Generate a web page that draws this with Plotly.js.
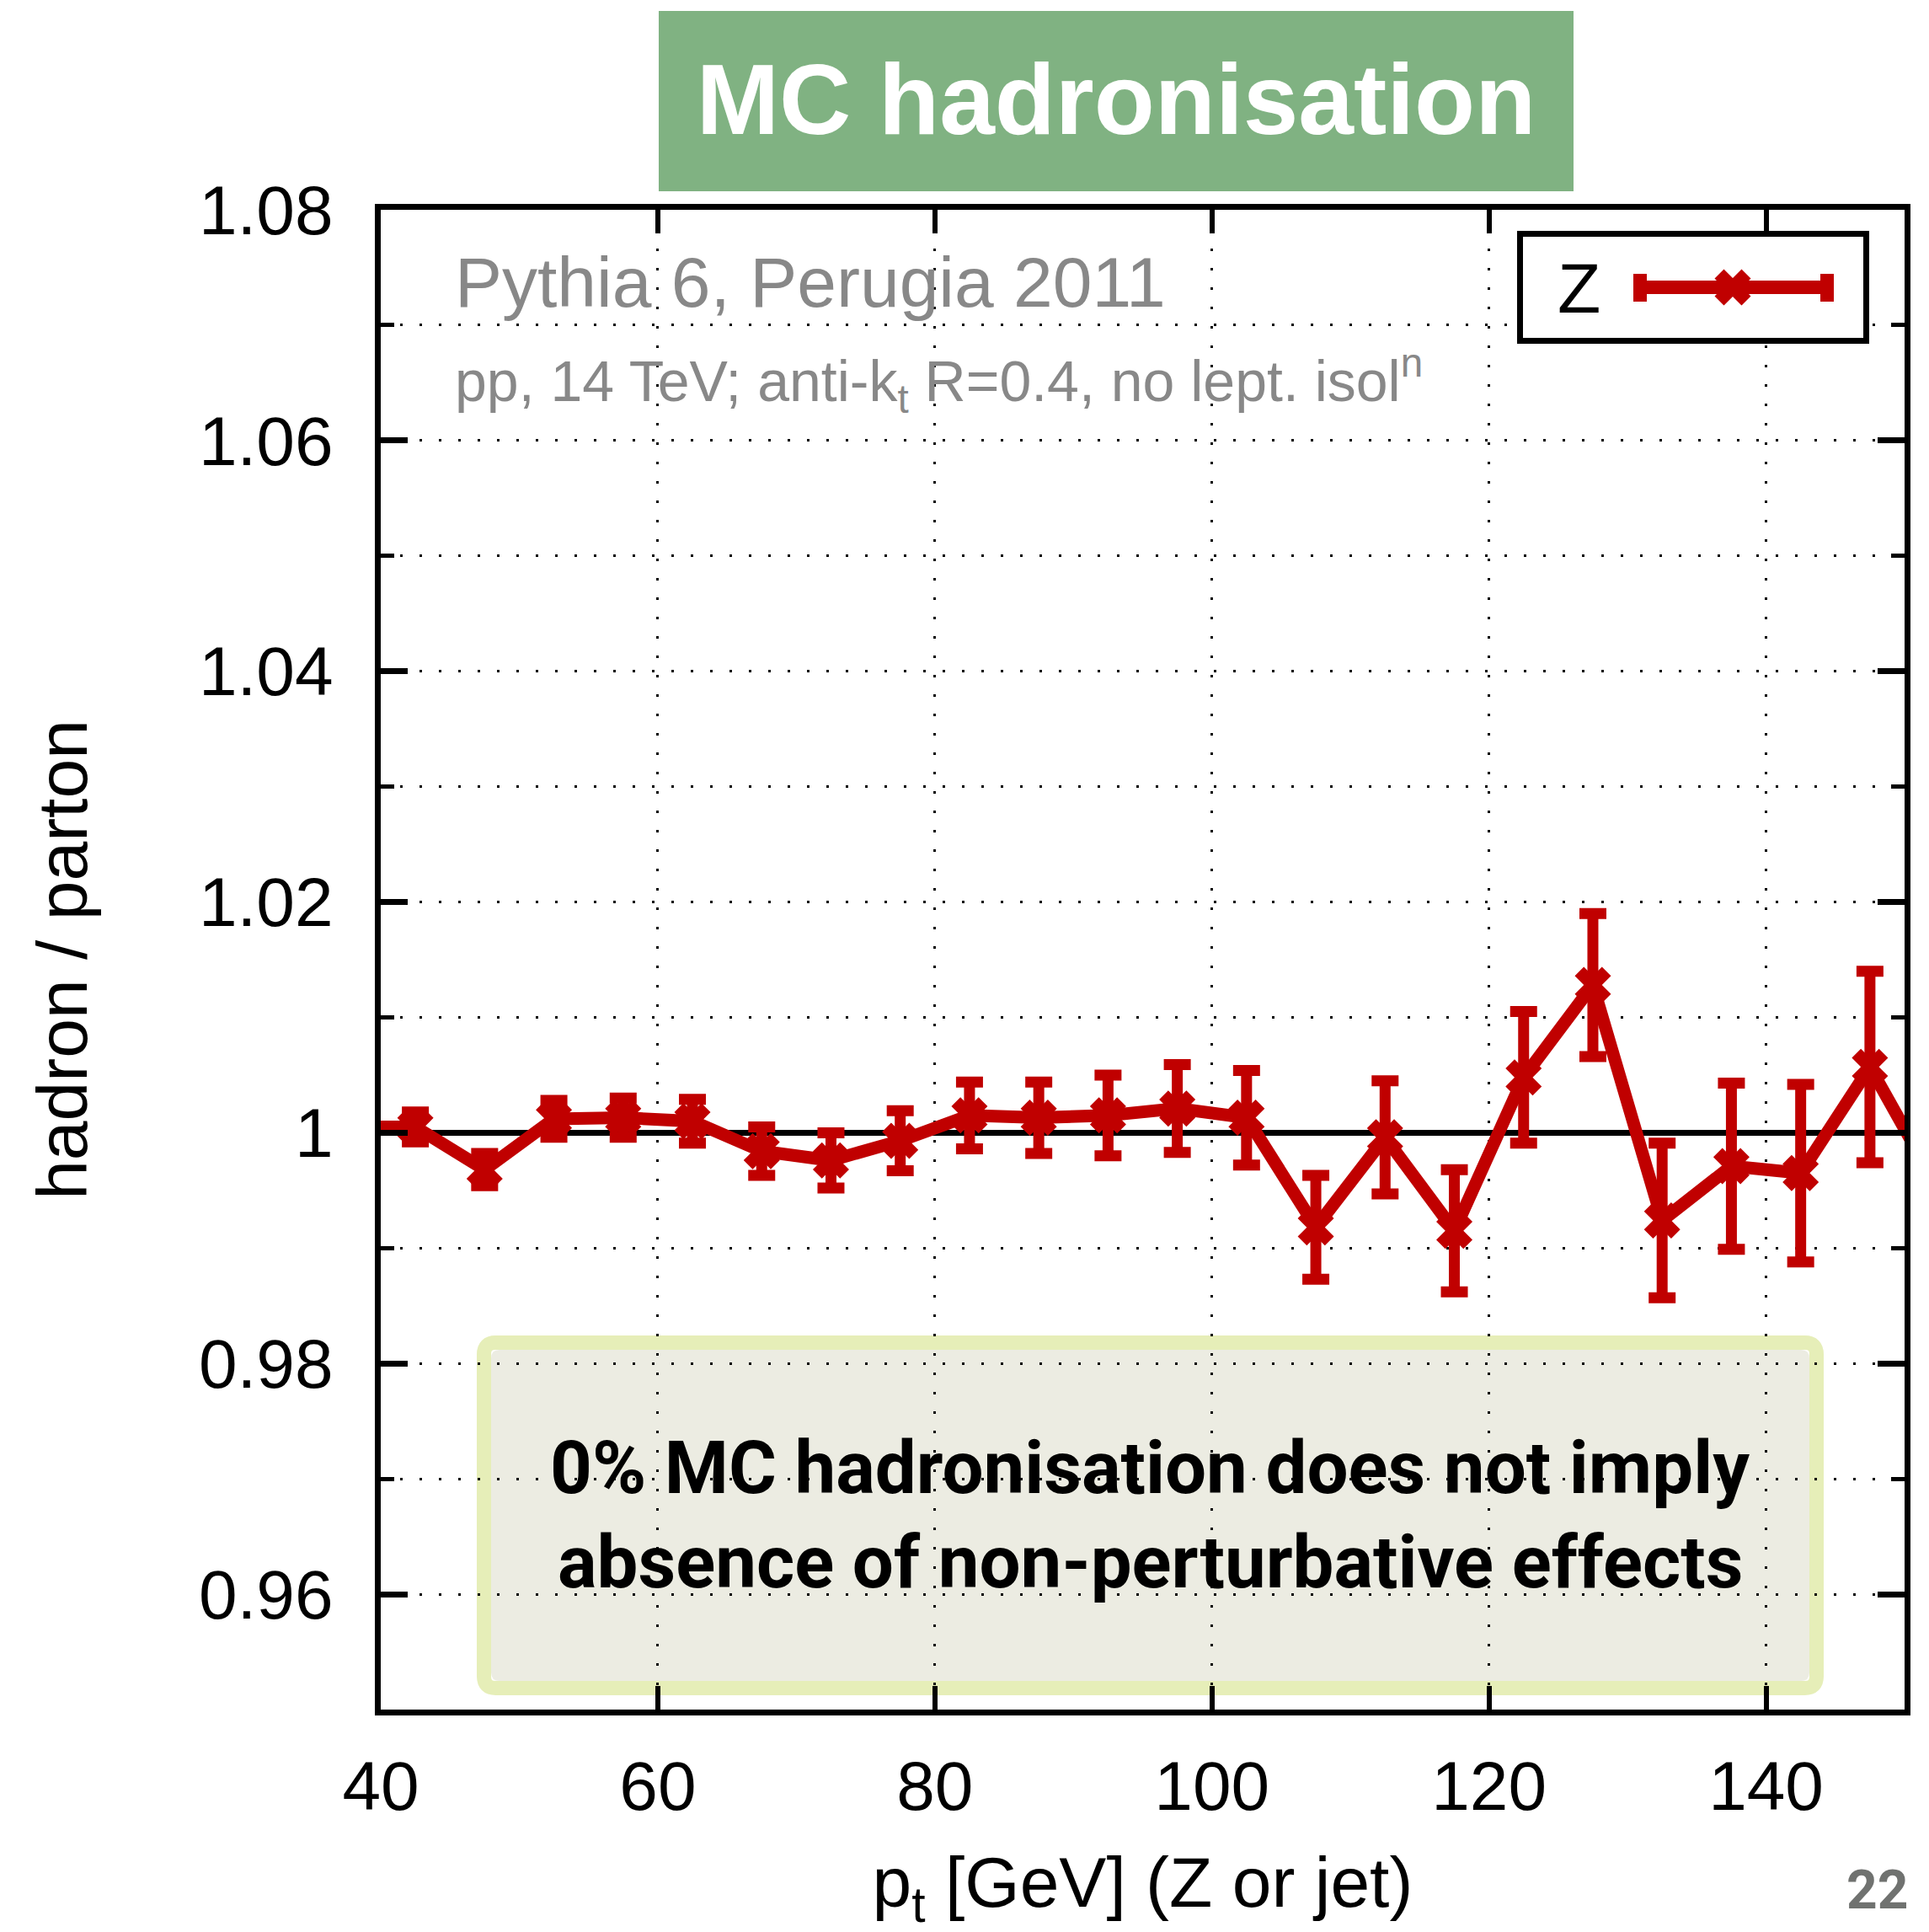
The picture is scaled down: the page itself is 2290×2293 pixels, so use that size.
<!DOCTYPE html>
<html><head><meta charset="utf-8">
<script src="https://cdn.plot.ly/plotly-3.0.1.min.js"></script>
<style>html,body{margin:0;padding:0;background:#fff;} #chart{width:2290px;height:2293px;}</style>
</head><body><div id="chart"></div>
<script>
// ---- data ----
const ptBins   = [37.5, 42.5, 47.5, 52.5, 57.5, 62.5, 67.5, 72.5, 77.5, 82.5, 87.5, 92.5, 97.5, 102.5, 107.5, 112.5, 117.5, 122.5, 127.5, 132.5, 137.5, 142.5, 147.5, 152.5];
const ratio    = [1.0005, 1.0005, 0.9968, 1.0012, 1.0013, 1.0010, 0.9984, 0.9976, 0.9993, 1.0015, 1.0013, 1.0015, 1.0021, 1.0013, 0.9918, 0.9996, 0.9915, 1.0048, 1.0128, 0.9924, 0.9971, 0.9965, 1.0057, 0.9950];
const ratioErr = [0.0012, 0.0013, 0.0014, 0.0016, 0.0017, 0.0019, 0.0021, 0.0024, 0.0026, 0.0029, 0.0031, 0.0035, 0.0038, 0.0041, 0.0045, 0.0049, 0.0053, 0.0057, 0.0062, 0.0067, 0.0072, 0.0077, 0.0083, 0.0088];
const xTickVals = [40, 60, 80, 100, 120, 140];
const xTickText = ['40', '60', '80', '100', '120', '140'];
const yTickVals = [0.96, 0.98, 1.00, 1.02, 1.04, 1.06, 1.08];
const yTickText = ['0.96', '0.98', '1', '1.02', '1.04', '1.06', '1.08'];
const seriesName = 'Z';
const referenceLevel = 1;
const xRange = [40, 150];
const yRange = [0.95, 1.08];

// ---- layout geometry ----
const W = 2290, H = 2293;
const L = 452, R = 29, T = 249, B = 264;
const PW = W - L - R, PH = H - T - B;
const fx = px => (px - L) / PW;
const fy = py => 1 - (py - T) / PH;
const RED = '#c00000';
const FONT = 'Liberation Sans, Arial, Helvetica, sans-serif';
const NOTE = 'Roboto, Liberation Sans, sans-serif';

function rrect(x0, y0, x1, y1, r) {
  const p = (x, y) => fx(x).toFixed(5) + ',' + fy(y).toFixed(5);
  return 'M' + p(x0 + r, y0) + ' L' + p(x1 - r, y0) + ' Q' + p(x1, y0) + ' ' + p(x1, y0 + r) +
         ' L' + p(x1, y1 - r) + ' Q' + p(x1, y1) + ' ' + p(x1 - r, y1) +
         ' L' + p(x0 + r, y1) + ' Q' + p(x0, y1) + ' ' + p(x0, y1 - r) +
         ' L' + p(x0, y0 + r) + ' Q' + p(x0, y0) + ' ' + p(x0 + r, y0) + ' Z';
}
function xPath(s, a) {
  const pts = [[-s, -s + a], [-s + a, -s], [0, -a], [s - a, -s], [s, -s + a], [a, 0],
               [s, s - a], [s - a, s], [0, a], [-s + a, s], [-s, s - a], [-a, 0]];
  return 'M' + pts.map(p => p[0] + ',' + p[1]).join(' L') + ' Z';
}

const trace = {
  type: 'scatter', mode: 'lines+markers', name: seriesName,
  x: ptBins, y: ratio,
  line: {color: RED, width: 15},
  marker: {symbol: 'x', size: 38, color: RED, line: {width: 0}},
  error_y: {type: 'data', array: ratioErr, visible: true, color: RED, thickness: 13, width: 16},
  showlegend: false, hoverinfo: 'skip'
};

const gridDash = '3px,20px';
const layout = {
  width: W, height: H,
  margin: {l: L, r: R, t: T, b: B, pad: 0},
  paper_bgcolor: '#ffffff', plot_bgcolor: '#ffffff',
  showlegend: false,
  font: {family: FONT, color: '#000'},
  title: {
    text: 'MC hadronisation',
    font: {family: FONT, size: 118, color: '#ffffff', weight: 'bold'},
    x: 1325 / W, xref: 'container', xanchor: 'center',
    y: 1 - 118 / H, yref: 'container', yanchor: 'middle'
  },
  xaxis: {
    range: xRange, tickmode: 'array', tickvals: xTickVals, ticktext: xTickText,
    ticks: 'inside', ticklen: 28, tickwidth: 6, tickcolor: '#000',
    showline: true, linewidth: 7, linecolor: '#000', mirror: 'allticks',
    showgrid: true, gridcolor: '#000', gridwidth: 3, griddash: gridDash,
    zeroline: false, automargin: false,
    tickfont: {family: FONT, size: 82, color: '#000'},
    ticklabelstandoff: 14,
    title: {text: 'p<sub>t</sub> [GeV] (Z or jet)', font: {family: FONT, size: 84, color: '#000'}, standoff: 93}
  },
  yaxis: {
    range: yRange, tickmode: 'array', tickvals: yTickVals, ticktext: yTickText,
    ticks: 'inside', ticklen: 32, tickwidth: 7, tickcolor: '#000',
    showline: true, linewidth: 7, linecolor: '#000', mirror: 'allticks',
    showgrid: true, gridcolor: '#000', gridwidth: 3, griddash: gridDash,
    minor: {tickmode: 'linear', tick0: 0.95, dtick: 0.01, ticks: 'inside', ticklen: 16, tickwidth: 5,
            tickcolor: '#000', showgrid: true, gridcolor: '#000', gridwidth: 3, griddash: gridDash},
    zeroline: false, automargin: false,
    tickfont: {family: FONT, size: 82, color: '#000'},
    ticklabelstandoff: 33,
    title: {text: 'hadron / parton', font: {family: FONT, size: 84, color: '#000'}, standoff: 107}
  },
  shapes: [
    // title banner
    {type: 'rect', xref: 'paper', yref: 'paper', x0: fx(782), x1: fx(1868), y0: fy(227), y1: fy(13),
     fillcolor: 'rgb(128,178,130)', line: {width: 0}, layer: 'above'},
    // reference line at 1
    {type: 'line', xref: 'paper', yref: 'y', x0: 0, x1: 1, y0: referenceLevel, y1: referenceLevel,
     line: {color: '#000', width: 7}, layer: 'between'},
    // note box border
    {type: 'path', xref: 'paper', yref: 'paper', path: rrect(574.5, 1593.5, 2156.5, 2003.5, 14),
     line: {color: '#e6eeb8', width: 17}, fillcolor: 'rgba(0,0,0,0)', layer: 'below'},
    // note box fill
    {type: 'path', xref: 'paper', yref: 'paper', path: rrect(583, 1602, 2148, 1995, 10),
     line: {width: 0}, fillcolor: 'rgba(224,224,208,0.62)', layer: 'between'},
    // legend box
    {type: 'rect', xref: 'paper', yref: 'paper', x0: fx(1804.5), x1: fx(2215.5), y0: fy(404.5), y1: fy(277.5),
     fillcolor: '#ffffff', line: {color: '#000', width: 7}, layer: 'above'},
    // legend sample line
    {type: 'line', xref: 'paper', yref: 'paper', x0: fx(1947), x1: fx(2168), y0: fy(341), y1: fy(341),
     line: {color: RED, width: 16}, layer: 'above'},
    {type: 'rect', xref: 'paper', yref: 'paper', x0: fx(1939), x1: fx(1955), y0: fy(358), y1: fy(325),
     fillcolor: RED, line: {width: 0}, layer: 'above'},
    {type: 'rect', xref: 'paper', yref: 'paper', x0: fx(2161), x1: fx(2177), y0: fy(358), y1: fy(325),
     fillcolor: RED, line: {width: 0}, layer: 'above'},
    {type: 'path', xref: 'paper', yref: 'paper', xsizemode: 'pixel', ysizemode: 'pixel',
     xanchor: fx(2057), yanchor: fy(341), path: xPath(21.5, 11),
     fillcolor: RED, line: {width: 0}, layer: 'above'}
  ],
  annotations: [
    {text: 'Pythia 6, Perugia 2011', xref: 'paper', yref: 'paper', x: fx(538), y: fy(335),
     xanchor: 'left', yanchor: 'middle', showarrow: false,
     font: {family: FONT, size: 84, color: '#888888'}},
    {text: 'pp, 14 TeV; anti-k<sub>t</sub> R=0.4, no lept. isol<sup>n</sup>', xref: 'paper', yref: 'paper',
     x: fx(538), y: fy(452), xanchor: 'left', yanchor: 'middle', showarrow: false,
     font: {family: FONT, size: 68, color: '#888888'}},
    {text: seriesName, xref: 'paper', yref: 'paper', x: fx(1874), y: fy(342),
     xanchor: 'center', yanchor: 'middle', showarrow: false,
     font: {family: FONT, size: 84, color: '#000'}},
    {text: '0% MC hadronisation does not imply', xref: 'paper', yref: 'paper', x: fx(1365), y: fy(1742),
     xanchor: 'center', yanchor: 'middle', showarrow: false,
     font: {family: NOTE, size: 87, color: '#000', weight: 'bold'}},
    {text: 'absence of non-perturbative effects', xref: 'paper', yref: 'paper', x: fx(1365), y: fy(1854),
     xanchor: 'center', yanchor: 'middle', showarrow: false,
     font: {family: NOTE, size: 87, color: '#000', weight: 'bold'}},
    {text: '22', xref: 'paper', yref: 'paper', x: fx(2228), y: fy(2243),
     xanchor: 'center', yanchor: 'middle', showarrow: false,
     font: {family: NOTE, size: 64, color: '#707270', weight: 'bold'}}
  ]
};

Plotly.newPlot('chart', [trace], layout, {displayModeBar: false, staticPlot: true});
</script>
</body></html>
